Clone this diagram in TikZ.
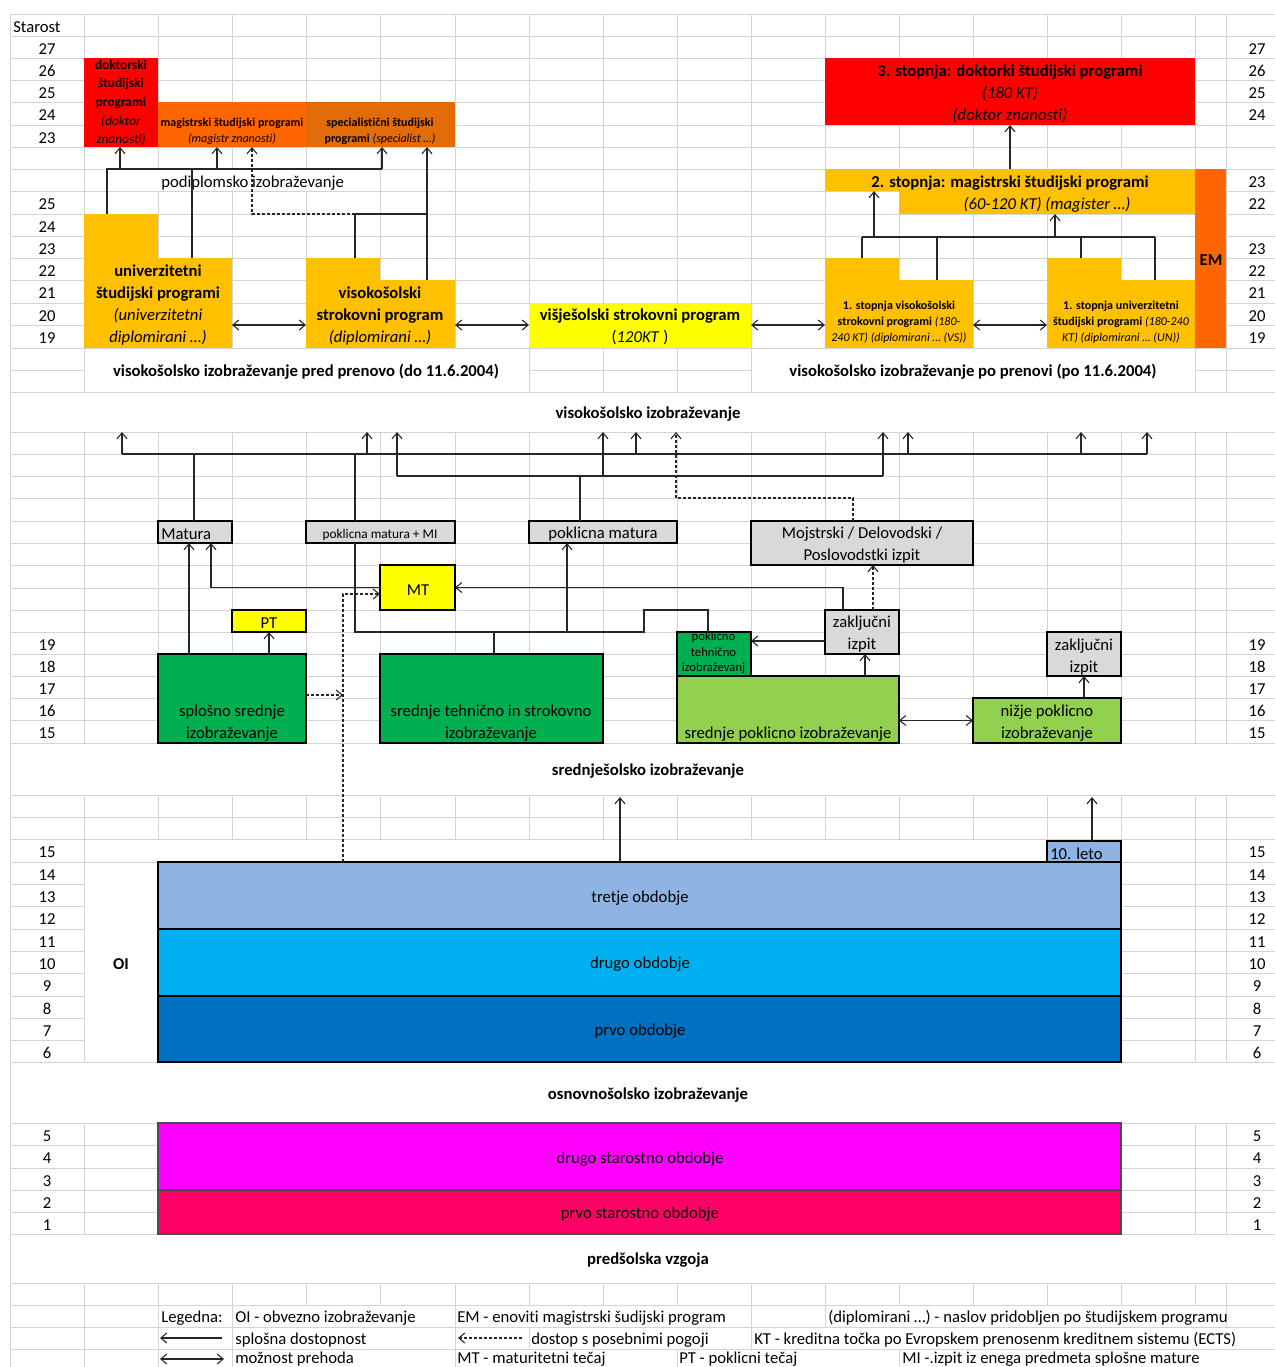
\documentclass[tikz,border=0pt]{standalone}
\usepackage{fontspec}
\setmainfont{Carlito}[Ligatures={NoCommon}]
\usetikzlibrary{fit,arrows.meta}
\definecolor{cRed}{HTML}{FF0000}
\definecolor{cOrg}{HTML}{FF6600}
\definecolor{cOrgD}{HTML}{E26B0A}
\definecolor{cGold}{HTML}{FFC000}
\definecolor{cYel}{HTML}{FFFF00}
\definecolor{cGray}{HTML}{D9D9D9}
\definecolor{cGreen}{HTML}{00B050}
\definecolor{cLGreen}{HTML}{92D050}
\definecolor{cBlueG}{HTML}{8DB4E2}
\definecolor{cCyan}{HTML}{00B0F0}
\definecolor{cBlue}{HTML}{0070C0}
\definecolor{cMag}{HTML}{FF00FF}
\definecolor{cPink}{HTML}{FF0066}
\definecolor{cGrid}{HTML}{D4D4D4}
\begin{document}
\begin{tikzpicture}[x=0.75pt,y=-0.75pt,
 >={Straight Barb[length=4.5pt,width=7.5pt]},
 grid/.style={draw=cGrid,line width=0.75pt},
 bx/.style={inner sep=0pt,outer sep=0pt},
 bxb/.style={inner sep=0pt,outer sep=0pt,draw=black,line width=1pt},
 txt/.style={inner sep=0pt,align=center,yshift=-1.3pt,font=\fontsize{12.5}{16.6}\selectfont},
 fb/.style={font=\fontsize{12.5}{16.6}\selectfont\bfseries},
 fs/.style={font=\fontsize{9}{12}\selectfont},
 conn/.style={draw=black!85,line width=0.8pt},
 arr/.style={conn,->},
 darr/.style={conn,<->},
 dsh/.style={conn,dash pattern=on 2.25pt off 1.5pt},
 dsharr/.style={dsh,->}
]
\useasboundingbox (0,0) rectangle (1275,1367);
\fill[white] (0,0) rectangle (1275,1367);
% ---------- grid ----------
\foreach \x in {10,84,158,232,306,380,455,529,603,677,751,825,899,973,1047,1121,1195,1226}
  \draw[grid] (\x,14) -- (\x,1367);
\foreach \y in {14,36,58,80,102,125,147,169,191,214,236,258,280,303,325,348,370,392,432,454,476,498,521,543,565,588,610,632,654,676,698,720,743,795,817,839,862,884,906,929,951,973,996,1018,1040,1062,1123,1145,1168,1190,1212,1234,1283,1305,1327,1349}
  \draw[grid] (10,\y) -- (1275,\y);
% merged / overflow cells
\fill[white] (84.5,169.5) rectangle (379.5,190.5);
\fill[white] (84.5,348.5) rectangle (528.5,391.5);
\fill[white] (751.5,348.5) rectangle (1194.5,391.5);
\fill[white] (10.5,392.5) rectangle (1275,431.5);
\fill[white] (10.5,743.5) rectangle (1275,794.5);
\fill[white] (84.5,839.5) rectangle (1046.5,861.5);
\fill[white] (84.5,862.5) rectangle (157.5,1061.5);
\fill[white] (10.5,1062.5) rectangle (1275,1122.5);
\fill[white] (10.5,1234.5) rectangle (1275,1282.5);
\fill[white] (232.5,1305.5) rectangle (454.5,1326.5);
\fill[white] (455.5,1305.5) rectangle (750.5,1326.5);
\fill[white] (825.5,1305.5) rectangle (1225.5,1326.5);
\fill[white] (232.5,1327.5) rectangle (454.5,1348.5);
\fill[white] (529.5,1327.5) rectangle (750.5,1348.5);
\fill[white] (751.5,1327.5) rectangle (1275,1348.5);
\fill[white] (232.5,1349.5) rectangle (454.5,1367);
\fill[white] (455.5,1349.5) rectangle (676.5,1367);
\fill[white] (677.5,1349.5) rectangle (898.5,1367);
\fill[white] (899.5,1349.5) rectangle (1275,1367);

% ---------- age labels ----------
\node[txt,anchor=west] (starost) at (13,25) {Starost};
\foreach \y/\t [count=\i] in {47/27,69/26,91/25,113.5/24,136/23,202.5/25,225/24,247/23,269/22,291.5/21,314/20,336.5/19,643/19,665/18,687/17,709/16,731.5/15,850.5/15,873/14,895/13,917.5/12,940/11,962/10,984.5/9,1007/8,1029/7,1051/6,1134/5,1156.5/4,1179/3,1201/2,1223/1}
  \node[txt] (L\i) at (47,\y) {\t};
\foreach \y/\t [count=\i] in {47/27,69/26,91/25,113.5/24,180/23,202.5/22,247/23,269/22,291.5/21,314/20,336.5/19,643/19,665/18,687/17,709/16,731.5/15,850.5/15,873/14,895/13,917.5/12,940/11,962/10,984.5/9,1007/8,1029/7,1051/6,1134/5,1156.5/4,1179/3,1201/2,1223/1}
  \node[txt] (R\i) at (1257,\y) {\t};

% ---------- higher education boxes ----------
\node[bx,fill=cRed,fit={(84,58) (158,147)}] (dok) {};
\node[bx,fill=cOrg,fit={(158,102) (306,147)}] (mag) {};
\node[bx,fill=cOrgD,fit={(306,102) (455,147)}] (spec) {};
\node[bx,fill=cGold,fit={(84,214) (158,348)}] (univA) {};
\node[bx,fill=cGold,fit={(84,258) (232,348)}] (univB) {};
\node[bx,fill=cGold,fit={(306,258) (380,348)}] (visA) {};
\node[bx,fill=cGold,fit={(306,280) (455,348)}] (visB) {};
\node[bx,fill=cYel,fit={(529,303) (751,348)}] (vss) {};
\node[bx,fill=cGold,fit={(825,258) (899,348)}] (s1vA) {};
\node[bx,fill=cGold,fit={(825,280) (973,348)}] (s1vB) {};
\node[bx,fill=cGold,fit={(1047,258) (1121,348)}] (s1uA) {};
\node[bx,fill=cGold,fit={(1047,280) (1195,348)}] (s1uB) {};
\node[bx,fill=cOrg,fit={(1195,169) (1226,348)}] (em) {};
\node[bx,fill=cGold,fit={(825,169) (1195,191)}] (s2A) {};
\node[bx,fill=cGold,fit={(899,191) (1195,214)}] (s2B) {};
\node[bx,fill=cRed,fit={(825,58) (1195,125)}] (s3) {};

\node[txt,font=\fontsize{10}{13.9}\selectfont] (tdok) at (121,101) {\textbf{doktorski}\\\textbf{študijski}\\\textbf{programi}\\\textit{(doktor}\\\textit{znanosti)}};
\node[txt,fs] (tmag) at (232,130) {\textbf{magistrski študijski programi}\\\textit{(magistr znanosti)}};
\node[txt,fs] (tspec) at (380,130) {\textbf{specialistični študijski}\\\textbf{programi} \textit{(specialist …)}};
\node[txt] (tuniv) at (158,303) {\textbf{univerzitetni}\\\textbf{študijski programi}\\\textit{(univerzitetni}\\\textit{diplomirani …)}};
\node[txt] (tvis) at (380,314) {\textbf{visokošolski}\\\textbf{strokovni program}\\\textit{(diplomirani …)}};
\node[txt] (tvss) at (640,325) {\textbf{višješolski strokovni program}\\(\textit{120KT} )};
\node[txt,anchor=west] (tpod) at (161,181) {podiplomsko izobraževanje};
\node[txt,fb] (hpred) at (306,370) {visokošolsko izobraževanje pred prenovo (do 11.6.2004)};
\node[txt,fb] (hpo) at (973,370) {visokošolsko izobraževanje po prenovi (po 11.6.2004)};
\node[txt] (ts3) at (1010,92) {\textbf{3. stopnja: doktorki študijski programi}\\\textit{(180 KT)}\\\textit{(doktor znanosti)}};
\node[txt] (ts2a) at (1010,181) {\textbf{2. stopnja: magistrski študijski programi}};
\node[txt] (ts2b) at (1047,203) {\textit{(60-120 KT) (magister …)}};
\node[txt,fb] (tem) at (1211,258) {EM};
\node[txt,fs] (ts1v) at (899,321) {\textbf{1. stopnja visokošolski}\\\textbf{strokovni programi} \textit{(180-}\\\textit{240 KT) (diplomirani … (VS))}};
\node[txt,fs] (ts1u) at (1121,321) {\textbf{1. stopnja univerzitetni}\\\textbf{študijski programi} \textit{(180-240}\\\textit{KT) (diplomirani … (UN))}};

% connectors top-left
\coordinate (pdl) at (107,169);
\coordinate (pdr) at (382,169);
\draw[conn] (univA.north -| pdl) -- (pdl) -- (pdr);
\draw[conn] (univB.north -| 192,0) -- (pdl -| 192,0);
\draw[arr] (pdl -| 120,0) -- (dok.south -| 120,0);
\draw[arr] (pdl -| 217,0) -- (mag.south -| 217,0);
\draw[arr] (pdr) -- (spec.south -| pdr);
\coordinate (vj) at (355,214);
\draw[conn] (visA.north -| vj) -- (vj) -- (vj -| 427,0);
\draw[arr] (visB.north -| 427,0) -- (spec.south -| 427,0);
\draw[dsharr] (vj) -| (mag.south -| 252,0);
\draw[darr] (univB.east |- 0,325) -- (visB.west |- 0,325);
\draw[darr] (visB.east |- 0,325) -- (vss.west |- 0,325);
\draw[darr] (vss.east |- 0,325) -- (s1vB.west |- 0,325);
\draw[darr] (s1vB.east |- 0,325) -- (s1uB.west |- 0,325);
% connectors top-right
\draw[arr] (s2A.north -| s3.south) -- (s3.south);
\coordinate (rj) at (0,237);
\draw[conn] (rj -| 862,0) -- (rj -| 1155,0);
\draw[conn] (rj -| 862,0) -- (s1vA.north -| 862,0);
\draw[conn] (rj -| 937,0) -- (s1vB.north -| 937,0);
\draw[conn] (rj -| 1081,0) -- (s1uA.north -| 1081,0);
\draw[conn] (rj -| 1155,0) -- (s1uB.north -| 1155,0);
\draw[arr] (rj -| 874,0) -- (s2A.south -| 874,0);
\draw[arr] (rj -| 1055,0) -- (s2B.south -| 1055,0);

% ---------- secondary education ----------
\node[bxb,fill=cGray,fit={(158,521) (232,543)}] (mat) {};
\node[bxb,fill=cGray,fit={(306,521) (455,543)}] (pmmi) {};
\node[bxb,fill=cGray,fit={(529,521) (677,543)}] (pm) {};
\node[bxb,fill=cGray,fit={(751,521) (973,565)}] (moj) {};
\node[bxb,fill=cYel,fit={(380,565) (455,610)}] (mt) {};
\node[bxb,fill=cYel,fit={(232,610) (306,632)}] (pt) {};
\node[bxb,fill=cGray,fit={(825,610) (899,654)}] (zi1) {};
\node[bxb,fill=cGray,fit={(1047,632) (1121,676)}] (zi2) {};
\node[bxb,fill=cGreen,fit={(158,654) (306,743)}] (sss) {};
\node[bxb,fill=cGreen,fit={(380,654) (603,743)}] (sts) {};
\node[bxb,fill=cGreen,fit={(677,632) (751,676)}] (pti) {};
\node[bxb,fill=cLGreen,fit={(677,676) (899,743)}] (spi) {};
\node[bxb,fill=cLGreen,fit={(973,698) (1121,743)}] (npi) {};

\node[txt,anchor=west] (tmat) at (161,532) {Matura};
\node[txt,font=\fontsize{10}{12}\selectfont] (tpmmi) at (380,533) {poklicna matura + MI};
\node[txt] (tpm) at (603,532) {poklicna matura};
\node[txt] (tmoj) at (862,543) {Mojstrski / Delovodski /\\Poslovodstki izpit};
\node[txt] (tmt) at (418,588) {MT};
\node[txt] (tpt) at (269,621) {PT};
\node[txt] (tzi1) at (862,632) {zaključni\\izpit};
\node[txt] (tzi2) at (1084,655) {zaključni\\izpit};
\node[txt] (tsss) at (232,721) {splošno srednje\\izobraževanje};
\node[txt] (tsts) at (491,721) {srednje tehnično in strokovno\\izobraževanje};
\node[txt] (tspi) at (788,732) {srednje poklicno izobraževanje};
\node[txt] (tnpi) at (1047,721) {nižje poklicno\\izobraževanje};
\begin{scope}
\clip (677,632.5) rectangle (751,676);
\node[txt,font=\fontsize{9.5}{11.6}\selectfont] (tpti) at (713.5,651) {poklicno\\tehnično\\izobraževanj};
\end{scope}

\node[txt,fb] (hvis) at (648,412) {visokošolsko izobraževanje};
\node[txt,fb] (hsred) at (648,769) {srednješolsko izobraževanje};

% connectors middle
\coordinate (la) at (0,454);
\coordinate (lb) at (0,476);
\coordinate (vtop) at (0,432);
\draw[conn] (la -| 122,0) -- (la -| 1147,0);
\foreach \x in {122,367,636,908,1081,1147}
  \draw[arr] (la -| \x,0) -- (vtop -| \x,0);
\draw[conn] (mat.north -| 194,0) -- (la -| 194,0);
\draw[conn] (pmmi.north -| 355,0) -- (la -| 355,0);
\draw[conn] (lb -| 397,0) -- (lb -| 883,0);
\foreach \x in {397,603,883}
  \draw[arr] (lb -| \x,0) -- (vtop -| \x,0);
\draw[conn] (pm.north -| 580,0) -- (lb -| 580,0);
\coordinate (dj) at (676,498);
\draw[dsharr] (moj.north -| 853,0) |- (dj) -- (vtop -| dj);

\draw[arr] (sss.north -| 189,0) -- (mat.south -| 189,0);
\draw[arr] (mt.west) -| (mat.south -| 211,0);
\draw[arr] (sss.north -| pt.south) -- (pt.south);
\coordinate (dv) at (343,594);
\draw[dsharr] (sss.east |- 0,695) -- (dv |- 0,695);

\coordinate (pj) at (355,632);
\draw[conn] (pmmi.south -| pj) -- (pj) -- (644,632) -- (644,610) -- (708,610) -- (pti.north -| 708,0);
\draw[conn] (sts.north -| 494,0) -- (pj -| 494,0);
\draw[arr] (pj -| 567,0) -- (pm.south -| 567,0);
\draw[arr] (zi1.north -| 843,0) |- (mt.east);
\draw[dsharr] (zi1.north -| 873,0) -- (moj.south -| 873,0);
\draw[arr] (zi1.west |- 0,641) -- (pti.east |- 0,641);
\draw[arr] (spi.north -| 865,0) -- (zi1.south -| 865,0);
\draw[darr] (spi.east |- npi.west) -- (npi.west);
\draw[arr] (npi.north -| 1084,0) -- (zi2.south -| 1084,0);

% ---------- primary / preschool ----------
\node[bxb,fill=cBlueG,fit={(1047,841) (1121,862)}] (leto) {};
\node[bxb,line width=1.3pt,fill=cBlueG,fit={(158,862) (1121,929)}] (tretje) {};
\node[bxb,line width=1.3pt,fill=cCyan,fit={(158,929) (1121,996)}] (drugo) {};
\node[bxb,line width=1.3pt,fill=cBlue,fit={(158,996) (1121,1062)}] (prvo) {};
\node[bxb,draw=black!70,line width=0.8pt,fill=cMag,fit={(158,1123) (1121,1190)}] (dso) {};
\node[bxb,draw=black!70,line width=0.8pt,fill=cPink,fit={(158,1190) (1121,1234)}] (pso) {};
\draw[dsharr] (tretje.north -| dv) -- (dv) -- (mt.west |- dv);

\node[txt,anchor=west] (tleto) at (1050,852) {10. leto};
\node[txt] (ttre) at (640,896) {tretje obdobje};
\node[txt] (tdru) at (640,962) {drugo obdobje};
\node[txt] (tprv) at (640,1029) {prvo obdobje};
\node[txt] (tdso) at (640,1157) {drugo starostno obdobje};
\node[txt] (tpso) at (640,1212) {prvo starostno obdobje};
\node[txt,fb] (toi) at (121,962) {OI};
\node[txt,fb] (hosn) at (648,1093) {osnovnošolsko izobraževanje};
\node[txt,fb] (hpre) at (648,1258) {predšolska vzgoja};

\coordinate (stop) at (0,797);
\draw[arr] (tretje.north -| 620,0) -- (stop -| 620,0);
\draw[arr] (leto.north -| 1092,0) -- (stop -| 1092,0);

% ---------- legend ----------
\node[txt,anchor=west] (lg0) at (161,1316) {Legedna:};
\node[txt,anchor=west] (lg1) at (235,1316) {OI - obvezno izobraževanje};
\node[txt,anchor=west] (lg2) at (457,1316) {EM - enoviti magistrski šudijski program};
\node[txt,anchor=west] (lg3) at (828,1316) {(diplomirani …) - naslov pridobljen po študijskem programu};
\node[txt,anchor=west] (lg4) at (235,1338) {splošna dostopnost};
\node[txt,anchor=west] (lg5) at (531,1338) {dostop s posebnimi pogoji};
\node[txt,anchor=west] (lg6) at (754,1338) {KT - kreditna točka po Evropskem prenosenm kreditnem sistemu (ECTS)};
\node[txt,anchor=west] (lg7) at (235,1357) {možnost prehoda};
\node[txt,anchor=west] (lg8) at (457,1357) {MT - maturitetni tečaj};
\node[txt,anchor=west] (lg9) at (679,1357) {PT - poklicni tečaj};
\node[txt,anchor=west] (lg10) at (902,1357) {MI -.izpit iz enega predmeta splošne mature};
\coordinate (a1s) at (222,1338); \coordinate (a1e) at (160,1338);
\coordinate (a2s) at (522,1338); \coordinate (a2e) at (458,1338);
\coordinate (a3s) at (160,1359); \coordinate (a3e) at (224,1359);
\draw[arr] (a1s) -- (a1e);
\draw[dsharr] (a2s) -- (a2e);
\draw[darr] (a3s) -- (a3e);
\end{tikzpicture}
\end{document}
